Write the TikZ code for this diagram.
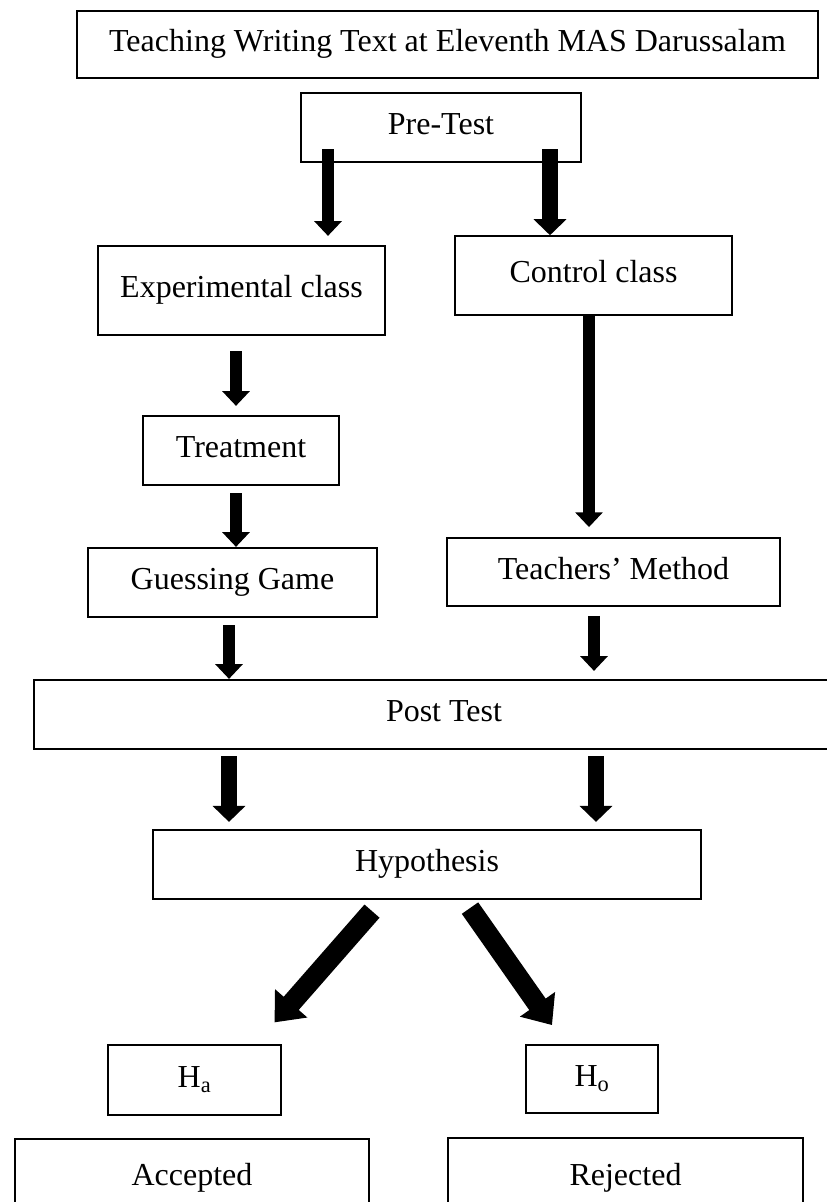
\documentclass[tikz,border=0pt]{standalone}
\usepackage{fontspec}
\setmainfont{Liberation Serif}
\usetikzlibrary{arrows.meta}

\begin{document}
\begin{tikzpicture}[
x=0.75pt, y=-0.75pt,
every node/.style={
draw,
line width=1.4pt,
inner sep=0pt,
align=center,
text height=16pt,
text depth=5pt,
font=\fontsize{24}{28}\selectfont
},
thinarrow/.style={line width=9pt, -{Triangle[width=20pt,length=11pt]}},
thickarrow/.style={line width=11.5pt, -{Triangle[width=24pt,length=12pt]}},
widearrow/.style={line width=15pt, -{Triangle[width=31pt,length=19pt]}}
]
\useasboundingbox (0,0) rectangle (827,1202);

\node[minimum width=556pt, minimum height=50pt] (title) at (447.5,44.5) {Teaching Writing Text at Eleventh MAS Darussalam};
\node[minimum width=210pt, minimum height=52pt] (pre) at (441,127.5) {Pre-Test};

\node[minimum width=215pt, minimum height=67pt] (exp) at (241.5,290.5) {Experimental class};
\node[minimum width=208pt, minimum height=59pt] (ctrl) at (593.5,275.5) {Control class};

\node[minimum width=147pt, minimum height=52pt] (treat) at (241,450.5) {Treatment};
\node[minimum width=217pt, minimum height=52pt] (guess) at (232.5,582.5) {Guessing Game};
\node[minimum width=250pt, minimum height=51pt] (teach) at (613.5,572) {Teachers’ Method};

\node[minimum width=615pt, minimum height=52pt] (post) at (444,714.5) {Post Test};
\node[minimum width=411pt, minimum height=52pt] (hyp) at (427,864.5) {Hypothesis};

\node[minimum width=130pt, minimum height=52pt] (ha) at (194.5,1080) {H\textsubscript{a}};
\node[minimum width=99pt, minimum height=51pt] (ho) at (592,1079) {H\textsubscript{o}};

\node[minimum width=265pt, minimum height=59pt] (acc) at (192,1178) {Accepted};
\node[minimum width=266pt, minimum height=60pt] (rej) at (625.5,1178) {Rejected};

\draw[thinarrow] ([shift={(-113,-14)}]pre.south) -- ([shift={(86.5,-9)}]exp.north);
\draw[thickarrow] ([shift={(109,-14)}]pre.south) -- ([shift={(-43.5,0)}]ctrl.north);

\draw[thinarrow] ([shift={(-5.5,15)}]exp.south) -- ([shift={(-5,-9)}]treat.north);
\draw[thinarrow] ([shift={(-5,7)}]treat.south) -- ([shift={(3.5,0)}]guess.north);
\draw[thinarrow] ([shift={(-4.5,0)}]ctrl.south) -- ([shift={(-24.5,-10)}]teach.north);

\draw[thinarrow] ([shift={(-3.5,7)}]guess.south) -- ([shift={(-215,0)}]post.north);
\draw[thinarrow] ([shift={(-19.5,9)}]teach.south) -- ([shift={(150,-8)}]post.north);

\draw[thickarrow] ([shift={(-215,6)}]post.south) -- ([shift={(-198,-7)}]hyp.north);
\draw[thickarrow] ([shift={(152,6)}]post.south) -- ([shift={(169,-7)}]hyp.north);

\draw[widearrow] ([shift={(-55,11)}]hyp.south) -- ([shift={(80,-22)}]ha.north);
\draw[widearrow] ([shift={(43,8)}]hyp.south) -- ([shift={(-40,-19)}]ho.north);

\end{tikzpicture}
\end{document}
